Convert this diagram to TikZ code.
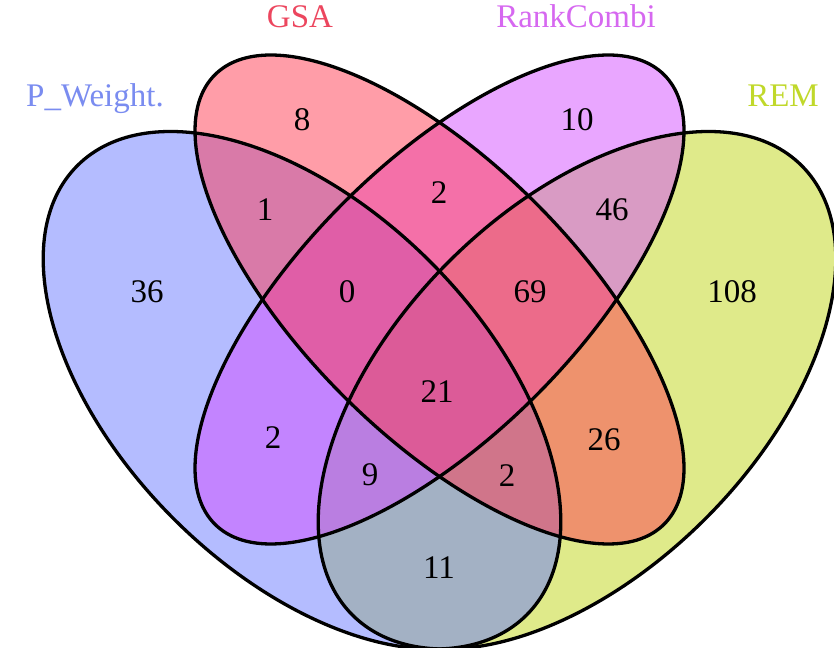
\documentclass[tikz,border=0pt]{standalone}
\usepackage{fontspec}
\setmainfont{Liberation Serif}

% set colours (filled at half opacity)
\definecolor{pwcol}{RGB}{105,121,255}
\definecolor{gsacol}{RGB}{255,59,81}
\definecolor{rccol}{RGB}{211,77,255}
\definecolor{remcol}{RGB}{191,213,21}
% label colours
\definecolor{pwlab}{RGB}{122,140,240}
\definecolor{gsalab}{RGB}{236,70,94}
\definecolor{rclab}{RGB}{214,104,240}
\definecolor{remlab}{RGB}{192,216,42}

\tikzset{
  setfill/.style={fill=#1, fill opacity=0.5},
  setline/.style={draw=black, line width=3.3pt},
  count/.style={font=\fontsize{33}{38}\selectfont, text=black, inner sep=0pt},
  setname/.style={font=\fontsize{33}{38}\selectfont, inner sep=0pt, anchor=base},
}

\begin{document}
\begin{tikzpicture}[x=1pt,y=1pt]
\useasboundingbox (0,0) rectangle (834,647);
\clip (0,0) rectangle (834,647);

% ellipse centres
\coordinate (cpw)  at (302,256.7);
\coordinate (cin)  at (439.5,347.5);
\coordinate (crem) at (577,256.7);

% fills, drawn in stacking order
\path[setfill=remcol, rotate around={45:(crem)}]  (crem) ellipse [x radius=317.7pt, y radius=181.6pt];
\path[setfill=pwcol,  rotate around={-45:(cpw)}]  (cpw)  ellipse [x radius=317.7pt, y radius=181.6pt];
\path[setfill=rccol,  rotate around={45:(cin)}]   (cin)  ellipse [x radius=317.7pt, y radius=136.2pt];
\path[setfill=gsacol, rotate around={-45:(cin)}]  (cin)  ellipse [x radius=317.7pt, y radius=136.2pt];

% outlines on top
\path[setline, rotate around={45:(crem)}]  (crem) ellipse [x radius=317.7pt, y radius=181.6pt];
\path[setline, rotate around={-45:(cpw)}]  (cpw)  ellipse [x radius=317.7pt, y radius=181.6pt];
\path[setline, rotate around={45:(cin)}]   (cin)  ellipse [x radius=317.7pt, y radius=136.2pt];
\path[setline, rotate around={-45:(cin)}]  (cin)  ellipse [x radius=317.7pt, y radius=136.2pt];

% region counts
\node[count] (gsaonly)  at (302,527) {8};
\node[count] (pwgsa)    at (265,437) {1};
\node[count] (pwonly)   at (147,355) {36};
\node[count] (pwgsarc)  at (347,355) {0};
\node[count] (gsarc)    at (439,454) {2};
\node[count] (rconly)   at (577,527) {10};
\node[count] (rcrem)    at (612,437) {46};
\node[count] (gsarcrem) at (530,355) {69};
\node[count] (remonly)  at (732,355) {108};
\node[count] (pwrc)     at (273,209) {2};
\node[count] (pwrcrem)  at (370,172) {9};
\node[count] (allfour)  at (437,255) {21};
\node[count] (pwgsarem) at (507,171) {2};
\node[count] (gsarem)   at (604,207) {26};
\node[count] (pwrem)    at (439,79)  {11};

% set names
\node[setname, text=pwlab]  (lpw)  at (95,540)  {P\_Weight.};
\node[setname, text=gsalab] (lgsa) at (300,619) {GSA};
\node[setname, text=rclab]  (lrc)  at (576,619) {RankCombi};
\node[setname, text=remlab] (lrem) at (783,540) {REM};
\end{tikzpicture}
\end{document}
